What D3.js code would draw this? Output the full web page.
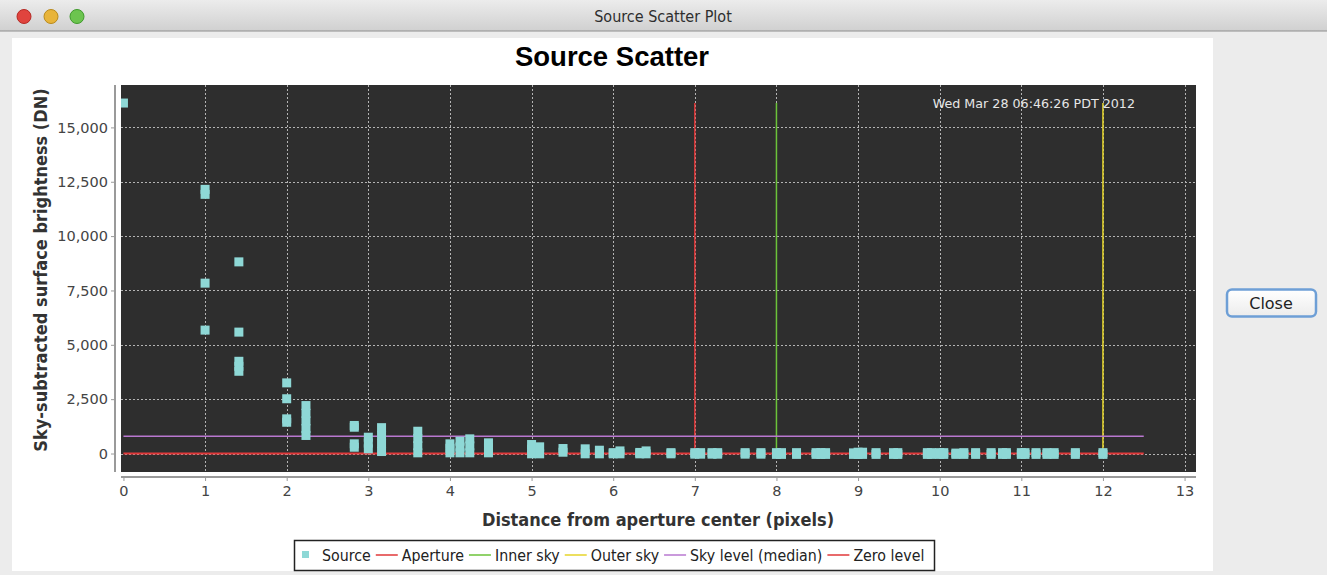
<!DOCTYPE html>
<html>
<head>
<meta charset="utf-8">
<script src="https://cdn.jsdelivr.net/npm/d3@7"></script>
<style>
  html, body { margin: 0; padding: 0; background: #ececec; overflow: hidden; }
  svg { display: block; }
</style>
</head>
<body>
<svg id="chart" width="1327" height="575"></svg>
<script>
// ---------------- data ----------------
const windowTitle = "Source Scatter Plot";
const chartTitle = "Source Scatter";
const xLabel = "Distance from aperture center (pixels)";
const yLabel = "Sky-subtracted surface brightness (DN)";
const timestamp = "Wed Mar 28 06:46:26 PDT 2012";

const xTicks = [0, 1, 2, 3, 4, 5, 6, 7, 8, 9, 10, 11, 12, 13];
const yTicks = [0, 2500, 5000, 7500, 10000, 12500, 15000];

// distances of source pixels from aperture centre
const sourceRadii = [
  0, 1, 1.414, 2, 2.236, 2.828, 3, 3.162, 3.606, 4, 4.123, 4.243, 4.472,
  5, 5.099, 5.385, 5.657, 5.831, 6, 6.083, 6.325, 6.403, 6.708,
  7, 7.071, 7.211, 7.28, 7.616, 7.81, 8, 8.062, 8.246, 8.485, 8.544, 8.602,
  8.944, 9, 9.055, 9.22, 9.434, 9.487, 9.849, 9.899, 10, 10.05, 10.198, 10.296,
  10.44, 10.63, 10.77, 10.817, 11, 11.045, 11.18, 11.314, 11.402, 11.662, 12
];
// sky-subtracted brightness values at each distance
const sourceValues = [
  [16120],
  [12150, 11920, 7836, 5676],
  [8815, 5584, 4242, 4010, 3783],
  [3249, 2519, 1595, 1438],
  [2206, 1850, 1500, 1150, 830],
  [1290, 1210, 446, 290],
  [750, 480, 216],
  [1190, 830, 460, 92],
  [1025, 690, 360, 32],
  [446, 240, 32],
  [565, 300, 32],
  [675, 350, 32],
  [492, 260, 32],
  [414, 200, -14],
  [308, -14],
  [230, 60],
  [216, -14],
  [152, -14],
  [40, -14],
  [120, -14],
  [50, -14],
  [120, -14],
  [40, -14],
  [40, -30], [40, -30], [40, -30], [40, -30], [40, -30], [40, -30],
  [40, -40], [40, -40], [40, -40], [40, -40], [40, -40], [40, -40],
  [30, -40], [60, -40], [60, -40], [40, -40], [40, -40], [40, -40],
  [40, -40], [40, -40], [40, -40], [40, -40], [20, -40], [40, -40],
  [40, -40], [40, -40], [40, -40], [40, -40], [40, -40], [40, -40],
  [40, -40], [40, -40], [40, -40], [40, -40], [40, -40]
];

const apertureRadius = 7;
const innerSkyRadius = 8;
const outerSkyRadius = 12;
const skyMedian = 790;
const zeroLevel = 0;
const levelLineExtent = [0, 12.5];

const legendNames = ["Source", "Aperture", "Inner sky", "Outer sky", "Sky level (median)", "Zero level"];
const legendKinds = ["square", "line", "line", "line", "line", "line"];
const legendColors = ["#8ed8d6", "#e0393a", "#6cc33a", "#e6d52a", "#b978d0", "#e0393a"];

// ---------------- drawing ----------------
const svg = d3.select("#chart");

// window chrome
const defs = svg.append("defs");
const tg = defs.append("linearGradient").attr("id", "titlebar").attr("x1", 0).attr("y1", 0).attr("x2", 0).attr("y2", 1);
tg.append("stop").attr("offset", "0%").attr("stop-color", "#ececec");
tg.append("stop").attr("offset", "100%").attr("stop-color", "#d0d0d0");
const bg = defs.append("linearGradient").attr("id", "btn").attr("x1", 0).attr("y1", 0).attr("x2", 0).attr("y2", 1);
bg.append("stop").attr("offset", "0%").attr("stop-color", "#ffffff");
bg.append("stop").attr("offset", "100%").attr("stop-color", "#ececec");

svg.append("rect").attr("x", 0).attr("y", 0).attr("width", 1327).attr("height", 575).attr("fill", "#ececec");
svg.append("rect").attr("x", 0).attr("y", 0).attr("width", 1327).attr("height", 31).attr("fill", "url(#titlebar)");
svg.append("line").attr("x1", 0).attr("x2", 1327).attr("y1", 31).attr("y2", 31).attr("stroke", "#8e8e8e").attr("stroke-width", 1);
const lights = [["#e0443e", "#b52a25", 24], ["#e8b43a", "#b98a1c", 51], ["#6cc44f", "#3f9a2c", 77]];
lights.forEach(([fill, stroke, cx]) => {
  svg.append("circle").attr("cx", cx).attr("cy", 16.5).attr("r", 7).attr("fill", fill).attr("stroke", stroke).attr("stroke-width", 1);
});
svg.append("text").attr("x", 663).attr("y", 22).attr("text-anchor", "middle")
  .attr("font-family", "DejaVu Sans Condensed, sans-serif").attr("font-size", 16).attr("fill", "#2e2e2e")
  .text(windowTitle);

// white chart panel
svg.append("rect").attr("x", 12).attr("y", 38).attr("width", 1201).attr("height", 533).attr("fill", "#ffffff");

// close button
svg.append("rect").attr("x", 1227).attr("y", 289.5).attr("width", 89).attr("height", 27).attr("rx", 5)
  .attr("fill", "url(#btn)").attr("stroke", "#6e9fd6").attr("stroke-width", 2.5);
svg.append("text").attr("x", 1271).attr("y", 309).attr("text-anchor", "middle")
  .attr("font-family", "DejaVu Sans, sans-serif").attr("font-size", 16).attr("fill", "#222")
  .text("Close");

// chart title
svg.append("text").attr("x", 612).attr("y", 66).attr("text-anchor", "middle")
  .attr("font-family", "Liberation Sans, Arial, sans-serif").attr("font-weight", "bold").attr("font-size", 27.5).attr("fill", "#000")
  .text(chartTitle);

// plot area
const plot = { left: 121, right: 1196, top: 85, bottom: 472 };
const x = d3.scaleLinear().domain([-0.03, 13.14]).range([plot.left, plot.right]);
const y = d3.scaleLinear().domain([-850, 16950]).range([plot.bottom, plot.top]);

svg.append("rect").attr("x", plot.left).attr("y", plot.top)
  .attr("width", plot.right - plot.left).attr("height", plot.bottom - plot.top).attr("fill", "#2e2e2e");

defs.append("clipPath").attr("id", "plotclip").append("rect")
  .attr("x", plot.left).attr("y", plot.top).attr("width", plot.right - plot.left).attr("height", plot.bottom - plot.top);

const grid = svg.append("g").attr("stroke", "#b4b4b4").attr("stroke-width", 1).attr("stroke-dasharray", "2,2");
grid.selectAll("line.v").data(xTicks.filter(d => d > 0)).join("line").attr("class", "v")
  .attr("x1", d => Math.round(x(d)) + 0.5).attr("x2", d => Math.round(x(d)) + 0.5)
  .attr("y1", plot.top).attr("y2", plot.bottom);
grid.selectAll("line.h").data(yTicks).join("line").attr("class", "h")
  .attr("y1", d => Math.round(y(d)) + 0.5).attr("y2", d => Math.round(y(d)) + 0.5)
  .attr("x1", plot.left).attr("x2", plot.right);

const marks = svg.append("g").attr("clip-path", "url(#plotclip)");

const maxVal = d3.max(sourceValues.flat());
// vertical radius markers
[[apertureRadius, legendColors[1]], [innerSkyRadius, legendColors[2]], [outerSkyRadius, legendColors[3]]]
  .forEach(([r, c]) => {
    marks.append("line").attr("x1", x(r)).attr("x2", x(r)).attr("y1", y(zeroLevel)).attr("y2", y(maxVal))
      .attr("stroke", c).attr("stroke-width", 1.5);
  });
// horizontal levels
marks.append("line").attr("x1", x(levelLineExtent[0])).attr("x2", x(levelLineExtent[1]))
  .attr("y1", y(skyMedian)).attr("y2", y(skyMedian)).attr("stroke", legendColors[4]).attr("stroke-width", 1.5);
marks.append("line").attr("x1", x(levelLineExtent[0])).attr("x2", x(levelLineExtent[1]))
  .attr("y1", y(zeroLevel)).attr("y2", y(zeroLevel)).attr("stroke", legendColors[5]).attr("stroke-width", 2);

// source points
const pts = [];
sourceRadii.forEach((r, i) => sourceValues[i].forEach(v => pts.push({ r, v })));
const sz = 9;
marks.selectAll("rect.pt").data(pts).join("rect").attr("class", "pt")
  .attr("x", d => x(d.r) - sz / 2).attr("y", d => y(d.v) - sz / 2)
  .attr("width", sz).attr("height", sz).attr("fill", legendColors[0]);

// timestamp
svg.append("text").attr("x", 1135).attr("y", 108).attr("text-anchor", "end")
  .attr("font-family", "DejaVu Sans, sans-serif").attr("font-size", 12.7).attr("fill", "#e6e6e6")
  .text(timestamp);

// axes
const axisFont = "DejaVu Sans, sans-serif";
const yAxis = d3.axisLeft(y).tickValues(yTicks).tickFormat(d3.format(",")).tickSize(4).tickPadding(3);
const gy = svg.append("g").attr("transform", "translate(115,0)").call(yAxis);
gy.select(".domain").attr("d", `M0,${plot.top}V${plot.bottom}`).attr("stroke", "#9a9a9a").attr("stroke-width", 2);
gy.selectAll(".tick line").attr("stroke", "#9a9a9a");
gy.selectAll(".tick text").attr("font-family", axisFont).attr("font-size", 14.5).attr("fill", "#444");

const xAxis = d3.axisBottom(x).tickValues(xTicks).tickFormat(d3.format("d")).tickSize(4).tickPadding(5);
const gx = svg.append("g").attr("transform", "translate(0,477)").call(xAxis);
gx.select(".domain").attr("d", `M${plot.left},0H${plot.right}`).attr("stroke", "#9a9a9a").attr("stroke-width", 2);
gx.selectAll(".tick line").attr("stroke", "#9a9a9a");
gx.selectAll(".tick text").attr("font-family", axisFont).attr("font-size", 14.5).attr("fill", "#444");

// axis labels
svg.append("text").attr("transform", "translate(47,270) rotate(-90)").attr("text-anchor", "middle")
  .attr("font-family", "DejaVu Sans Condensed, DejaVu Sans, sans-serif").attr("font-weight", "bold").attr("font-size", 18).attr("fill", "#333")
  .text(yLabel);
svg.append("text").attr("x", 658).attr("y", 526).attr("text-anchor", "middle")
  .attr("font-family", "DejaVu Sans Condensed, DejaVu Sans, sans-serif").attr("font-weight", "bold").attr("font-size", 18).attr("fill", "#333")
  .text(xLabel);

// legend
const lg = svg.append("g");
lg.append("rect").attr("x", 294.5).attr("y", 540.5).attr("width", 640).attr("height", 30)
  .attr("fill", "#fff").attr("stroke", "#222").attr("stroke-width", 1.5);
let cx = 302;
const ly = 555;
legendNames.forEach((name, i) => {
  if (legendKinds[i] === "square") {
    lg.append("rect").attr("x", cx).attr("y", ly - 4).attr("width", 7).attr("height", 7).attr("fill", legendColors[i]);
    cx += 7 + 13;
  } else {
    lg.append("line").attr("x1", cx).attr("x2", cx + 22).attr("y1", ly).attr("y2", ly)
      .attr("stroke", legendColors[i]).attr("stroke-width", 1.5);
    cx += 22 + 4;
  }
  const t = lg.append("text").attr("x", cx).attr("y", ly + 5.5)
    .attr("font-family", "DejaVu Sans Condensed, DejaVu Sans, sans-serif").attr("font-size", 15.8).attr("fill", "#222")
    .text(name);
  cx += t.node().getComputedTextLength() + 5;
});
</script>
</body>
</html>
